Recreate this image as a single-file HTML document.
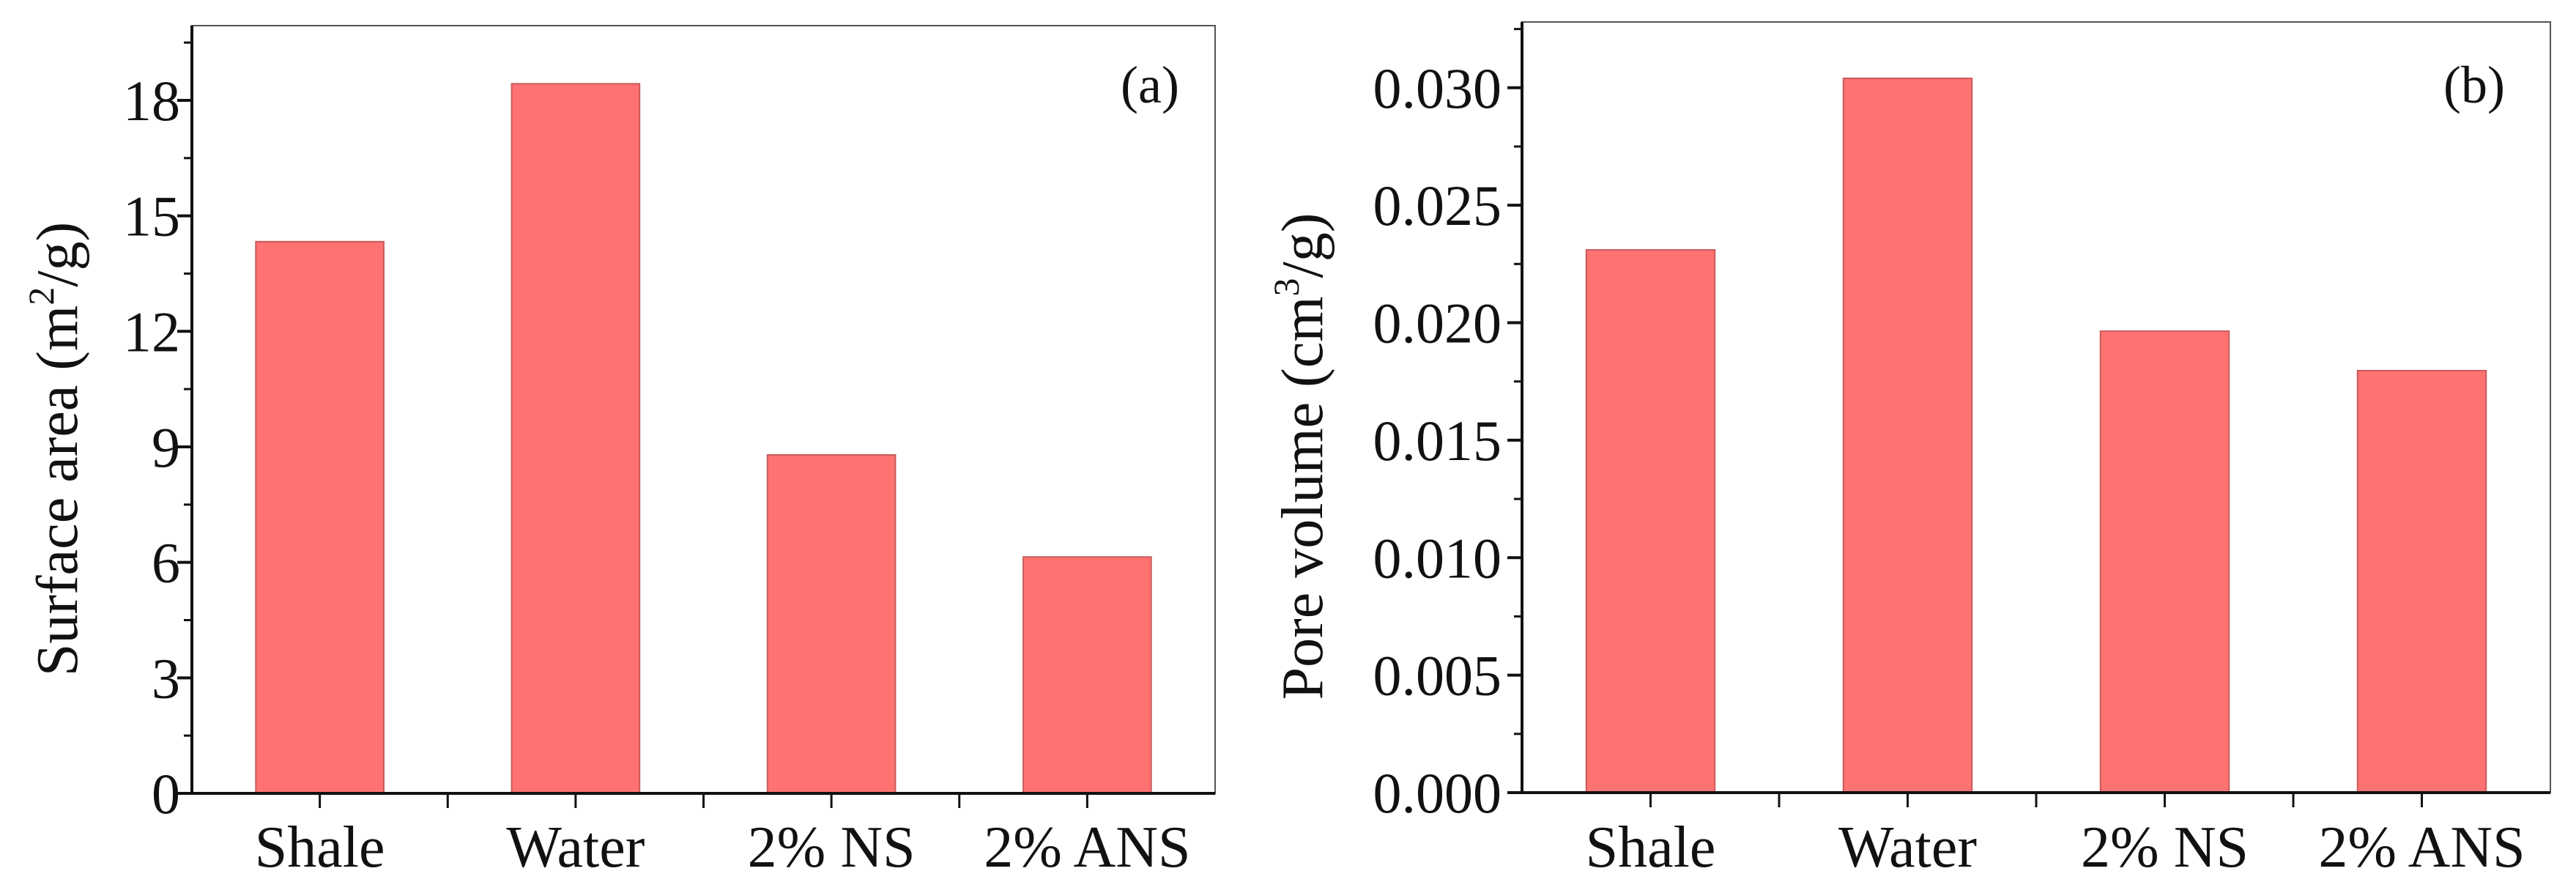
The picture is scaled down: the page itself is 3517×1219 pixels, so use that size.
<!DOCTYPE html>
<html><head><meta charset="utf-8"><style>
html,body{margin:0;padding:0;background:#fff;}
svg{display:block;font-family:"Liberation Serif",serif;}
</style></head><body>
<svg id="fig" width="3517" height="1219" viewBox="0 0 3517 1219" xmlns="http://www.w3.org/2000/svg"></svg>
<script>
const categories = ["Shale", "Water", "2% NS", "2% ANS"];
const surfaceArea = [14.33, 18.43, 8.79, 6.14];
const poreVolume = [0.0231, 0.0304, 0.01964, 0.01796];
const ticksA = [0, 3, 6, 9, 12, 15, 18];
const tickLabelsA = ["0", "3", "6", "9", "12", "15", "18"];
const ticksB = [0, 0.005, 0.010, 0.015, 0.020, 0.025, 0.030];
const tickLabelsB = ["0.000", "0.005", "0.010", "0.015", "0.020", "0.025", "0.030"];

const NS = "http://www.w3.org/2000/svg";
const svg = document.getElementById('fig');
function mk(tag, attrs, parent, text) {
  const e = document.createElementNS(NS, tag);
  for (const k in attrs) e.setAttribute(k, attrs[k]);
  if (text !== undefined) e.textContent = text;
  (parent || svg).appendChild(e);
  return e;
}

function panel(cfg) {
  const g = mk('g', {});
  
  
  const {L, R, T, B, ymax} = cfg;
  const n = categories.length;
  const xs = i => L + (i + 0.5) * (R - L) / n;
  const ys = v => B - v / ymax * (B - T);
  const bw = 0.5 * (R - L) / n;
  // bars
  cfg.values.forEach((v, i) => {
    const r = mk('rect', {x: xs(i) - bw / 2, y: ys(v), width: bw, height: B - ys(v), fill: '#ff7272', stroke: '#c85a5a', 'stroke-width': 2}, g);
    
    
  });
  // frame
  const fr = mk('rect', {x: L, y: T, width: R - L, height: B - T, fill: 'none', stroke: '#555', 'stroke-width': 2}, g);
  
  
  const ya = mk('line', {x1: L, y1: T, x2: L, y2: B + 2, stroke: '#111', 'stroke-width': 4}, g);
  
  
  const xa = mk('line', {x1: L - 2, y1: B, x2: R, y2: B, stroke: '#111', 'stroke-width': 4}, g);
  
  
  // y ticks
  cfg.ticks.forEach((t, i) => {
    const y = ys(t);
    mk('line', {x1: L - 20, y1: y, x2: L, y2: y, stroke: '#111', 'stroke-width': 4}, g);
    const lb = mk('text', {x: cfg.labelRight, y: y + 27, 'text-anchor': 'end', 'font-size': 78, fill: '#111'}, g, cfg.tickLabels[i]);
    
    
    if (i < cfg.ticks.length - 1) {
      const ym = ys((t + cfg.ticks[i + 1]) / 2);
      mk('line', {x1: L - 11, y1: ym, x2: L, y2: ym, stroke: '#111', 'stroke-width': 3}, g);
    }
  });
  // minor tick above last major
  const step = cfg.ticks[1] - cfg.ticks[0];
  const last = cfg.ticks[cfg.ticks.length - 1] + step / 2;
  if (last < ymax) mk('line', {x1: L - 11, y1: ys(last), x2: L, y2: ys(last), stroke: '#111', 'stroke-width': 3}, g);
  // x ticks
  for (let k = 1; k < 2 * n; k++) {
    const x = L + k * (R - L) / (2 * n);
    mk('line', {x1: x, y1: B, x2: x, y2: B + 20, stroke: '#111', 'stroke-width': 3}, g);
  }
  categories.forEach((c, i) => {
    const t = mk('text', {x: xs(i), y: 1183, 'text-anchor': 'middle', 'font-size': 80, fill: '#111'}, g, c);
    
    
  });
  // y title
  const yt = mk('text', {x: 0, y: 0, 'text-anchor': 'middle', 'font-size': 80, fill: '#111', transform: `translate(${cfg.titleX},${cfg.titleY}) rotate(-90)`}, g);
  
  
  mk('tspan', {}, yt, cfg.title[0]);
  mk('tspan', {'font-size': 50, dy: -32}, yt, cfg.title[1]);
  mk('tspan', {dy: 32}, yt, cfg.title[2]);
  // panel label
  const pl = mk('text', {x: cfg.tagX, y: 140, 'text-anchor': 'middle', 'font-size': 72, fill: '#111'}, g, cfg.tag);
  
  
}

panel({name: 'panel-a-surface-area', L: 262, R: 1659, T: 35, B: 1083, ymax: 19.94,
  values: surfaceArea, ticks: ticksA, tickLabels: tickLabelsA, labelRight: 246,
  title: ['Surface area (m', '2', '/g)'], titleX: 105, titleY: 613, tag: '(a)', tagX: 1570});
panel({name: 'panel-b-pore-volume', L: 2078, R: 3482, T: 30, B: 1082, ymax: 0.0328,
  values: poreVolume, ticks: ticksB, tickLabels: tickLabelsB, labelRight: 2050,
  title: ['Pore volume (cm', '3', '/g)'], titleX: 1805, titleY: 623, tag: '(b)', tagX: 3378});
</script>
</body></html>
